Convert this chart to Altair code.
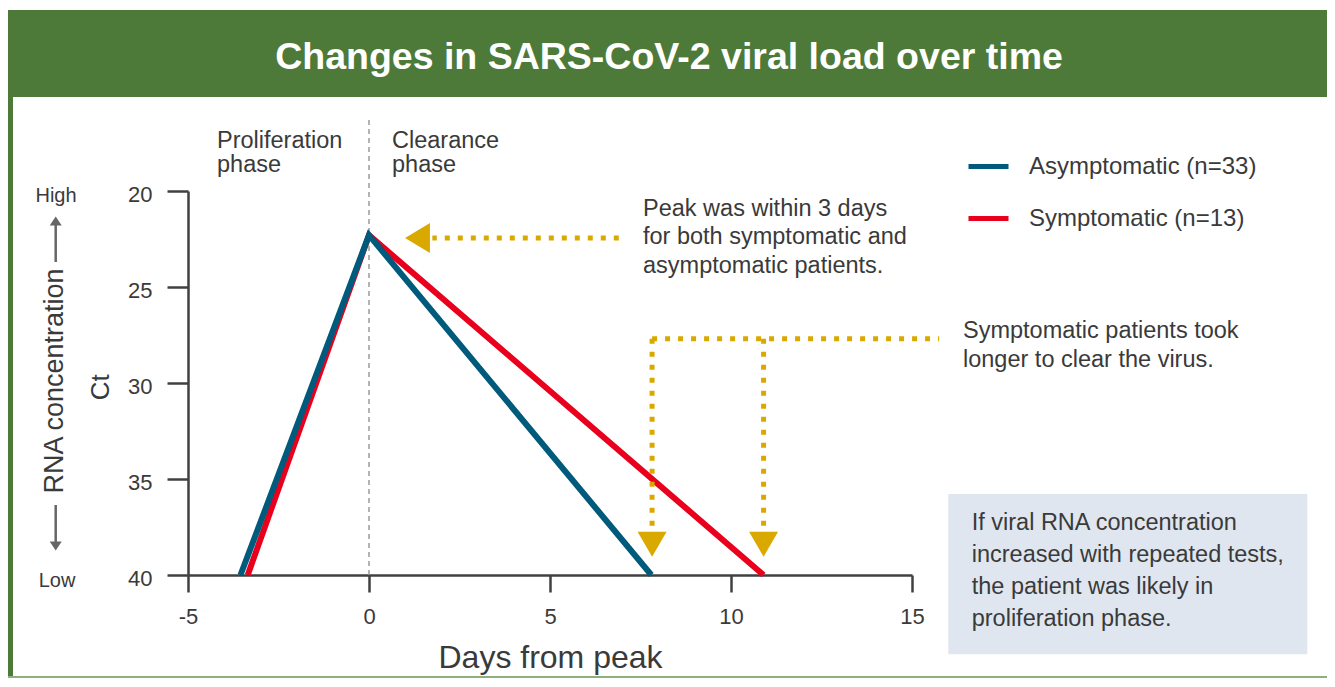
import altair as alt
import pandas as pd

FONT = "Liberation Sans"
TEXT = "#3A3A3A"
AXIS = "#404040"
GREEN = "#4E7A39"
GREEN_LIGHT = "#8FAE7F"
BLUE = "#005A7C"
RED = "#E8001C"
GOLD = "#DAA900"
BOX = "#DFE6EF"

# ---------------- data ----------------
title_text = "Changes in SARS-CoV-2 viral load over time"
series = ["Asymptomatic (n=33)", "Symptomatic (n=13)"]
series_colors = [BLUE, RED]
asym_days = [-3.55, 0.0, 7.8]
asym_ct = [40.0, 22.3, 40.0]
sym_days = [-3.35, 0.0, 10.9]
sym_ct = [40.0, 22.3, 40.0]
x_ticks = [-5, 0, 5, 10, 15]
y_ticks = [20, 25, 30, 35, 40]

# annotation geometry in data units
peak_line_days = [6.9, 1.75]
peak_line_ct = 22.45
peak_head_day = 1.34
clear_days = [7.82, 10.9]
clear_top_ct = 27.7
clear_line_end_day = 15.75
clear_bottom_ct = 37.6
clear_head_ct = 38.4
divider_day = 0.0
divider_top_ct = 16.3

proliferation_label = ["Proliferation", "phase"]
clearance_label = ["Clearance", "phase"]
peak_note = ["Peak was within 3 days", "for both symptomatic and", "asymptomatic patients."]
clear_note = ["Symptomatic patients took", "longer to clear the virus."]
box_note = ["If viral RNA concentration", "increased with repeated tests,",
            "the patient was likely in", "proliferation phase."]

W, H = 724, 384

# ---------------- tables ----------------
lines = pd.DataFrame({
    "day": asym_days + sym_days,
    "ct": asym_ct + sym_ct,
    "group": [series[0]] * 3 + [series[1]] * 3,
    "order": [0, 1, 2, 0, 1, 2],
})

x_enc = alt.X("day:Q",
              scale=alt.Scale(domain=[-5, 15], nice=False, zero=False),
              axis=alt.Axis(values=x_ticks, grid=False, title="Days from peak",
                            labelExpr="'' + datum.value",
                            domainColor=AXIS, domainWidth=2.5, tickColor=AXIS, tickWidth=2.5,
                            tickSize=17, labelFontSize=22, labelColor=TEXT, labelPadding=14,
                            labelFont=FONT, labelFlush=False,
                            titleFont=FONT, titleFontSize=32, titleFontWeight="normal",
                            titleColor=TEXT, titleY=92, titleBaseline="alphabetic"))
y_enc = alt.Y("ct:Q",
              scale=alt.Scale(domain=[20, 40], reverse=True, nice=False, zero=False),
              axis=alt.Axis(values=y_ticks, grid=False, title="Ct",
                            domainColor=AXIS, domainWidth=2.5, tickColor=AXIS, tickWidth=2.5,
                            tickSize=21, labelFontSize=22, labelColor=TEXT, labelPadding=15,
                            labelFont=FONT, labelOffset=3,
                            titleFont=FONT, titleFontSize=26, titleFontWeight="normal",
                            titleColor=TEXT, titleAngle=270, titleX=-79.7, titleY=195.7,
                            titleAlign="center", titleBaseline="alphabetic"))

color_enc = alt.Color("group:N",
                      scale=alt.Scale(domain=series, range=series_colors),
                      legend=alt.Legend(orient="none", legendX=778, legendY=-47, title=None,
                                        symbolType="stroke", symbolSize=1600,
                                        symbolStrokeWidth=5, labelFontSize=24,
                                        labelColor=TEXT, labelFont=FONT, labelOffset=18,
                                        labelLimit=0, rowPadding=17, padding=0))


def deco():
    return alt.Chart(alt.Data(values=[{"k": 1}]))


def note(lines_, x, y, size, lh, color=TEXT, align="left", **kw):
    return deco().mark_text(text=lines_, font=FONT, fontSize=size, lineHeight=lh,
                            color=color, align=align, baseline="alphabetic", **kw
                            ).encode(x=alt.value(x), y=alt.value(y))


# frame
band = deco().mark_rect(color=GREEN).encode(
    x=alt.value(-180), x2=alt.value(1139), y=alt.value(-181), y2=alt.value(-94))
strip = deco().mark_rect(color=GREEN).encode(
    x=alt.value(-180), x2=alt.value(-175), y=alt.value(-181), y2=alt.value(487))
bottom = deco().mark_rect(color=GREEN_LIGHT).encode(
    x=alt.value(-180), x2=alt.value(1139), y=alt.value(485), y2=alt.value(487))
title = deco().mark_text(text=title_text, font=FONT, fontSize=37.5, fontWeight="bold",
                         color="white", align="center", baseline="alphabetic"
                         ).encode(x=alt.value(481), y=alt.value(-121.7))

# left side labels
high = note("High", -132, 11, 20, 20, align="center")
low = note("Low", -131, 395.7, 20, 20, align="center")
rna = deco().mark_text(text="RNA concentration", font=FONT, fontSize=27, color=TEXT,
                       align="center", baseline="alphabetic", angle=270
                       ).encode(x=alt.value(-124.7), y=alt.value(190))
up_line = deco().mark_rule(color="#666666", strokeWidth=2.5).encode(
    x=alt.value(-132.3), y=alt.value(31), y2=alt.value(71))
dn_line = deco().mark_rule(color="#666666", strokeWidth=2.5).encode(
    x=alt.value(-132.3), y=alt.value(314), y2=alt.value(354))
up_head = deco().mark_point(shape="M0,-0.75L-1,0.75L1,0.75Z", filled=True, size=144,
                            color="#666666", opacity=1).encode(
    x=alt.value(-132.3), y=alt.value(30))
dn_head = deco().mark_point(shape="M0,0.75L-1,-0.75L1,-0.75Z", filled=True, size=144,
                            color="#666666", opacity=1).encode(
    x=alt.value(-132.3), y=alt.value(355))

# phase labels / divider
prolif = note(proliferation_label, 29, -42.7, 23.5, 23.5)
clear_lbl = note(clearance_label, 204, -42.7, 23.5, 23.5)
divider = alt.Chart(pd.DataFrame({"day": [divider_day], "ct": [divider_top_ct], "ct2": [40.0]})
                    ).mark_rule(color="#9A9A9A", strokeWidth=1.5, strokeDash=[5, 4]).encode(
    x=x_enc, y=y_enc, y2="ct2:Q")

# data lines (red first so blue sits on top)
red_line = alt.Chart(lines).transform_filter(alt.datum.group == series[1]).mark_line(
    strokeWidth=6, strokeCap="butt", strokeJoin="miter").encode(
    x=x_enc, y=y_enc, color=color_enc, order=alt.Order("order:Q"))
blue_line = alt.Chart(lines).transform_filter(alt.datum.group == series[0]).mark_line(
    strokeWidth=6, strokeCap="butt", strokeJoin="miter").encode(
    x=x_enc, y=y_enc, color=color_enc, order=alt.Order("order:Q"))

# annotations
dot_style = dict(color=GOLD, strokeWidth=5, strokeDash=[5, 8], strokeCap="butt")
peak_rule = alt.Chart(pd.DataFrame({"day": [peak_line_days[0]], "day2": [peak_line_days[1]],
                                    "ct": [peak_line_ct], "ct2": [peak_line_ct]})
                      ).mark_rule(**dot_style).encode(x=x_enc, x2="day2:Q", y=y_enc, y2="ct2:Q")
peak_head = alt.Chart(pd.DataFrame({"day": [peak_head_day], "ct": [peak_line_ct]})
                      ).mark_point(shape="M-0.83,0L0.83,-1L0.83,1Z", filled=True, size=900,
                                   color=GOLD, opacity=1).encode(x=x_enc, y=y_enc)
clear_rules = alt.Chart(pd.DataFrame({
    "day": [clear_days[0], clear_days[0], clear_days[1]],
    "day2": [clear_line_end_day, clear_days[0], clear_days[1]],
    "ct": [clear_top_ct, clear_top_ct, clear_top_ct],
    "ct2": [clear_top_ct, clear_bottom_ct, clear_bottom_ct],
})).mark_rule(**dot_style).encode(x=x_enc, x2="day2:Q", y=y_enc, y2="ct2:Q")
clear_heads = alt.Chart(pd.DataFrame({"day": clear_days, "ct": [clear_head_ct] * 2})
                        ).mark_point(shape="M-1,-0.86L1,-0.86L0,0.86Z", filled=True, size=841,
                                     color=GOLD, opacity=1).encode(x=x_enc, y=y_enc)

peak_txt = note(peak_note, 455, 24.7, 23.5, 28.8)
clear_txt = note(clear_note, 775, 147.3, 23.5, 28.4)
box = deco().mark_rect(color=BOX).encode(
    x=alt.value(760.3), x2=alt.value(1119.3), y=alt.value(303), y2=alt.value(463.3))
box_txt = note(box_note, 783.7, 339, 23.5, 32)

chart = alt.layer(
    band, strip, bottom, title,
    high, low, rna, up_line, dn_line, up_head, dn_head,
    prolif, clear_lbl, divider,
    red_line, blue_line,
    peak_rule, peak_head, clear_rules, clear_heads,
    peak_txt, clear_txt, box, box_txt,
).properties(
    width=W, height=H,
    autosize=alt.AutoSizeParams(type="none"),
    padding={"left": 180, "top": 183, "right": 415, "bottom": 103},
    background="white",
).configure(font=FONT).configure_view(stroke="transparent", strokeWidth=0)

chart.save("out.html", embed_options={"renderer": "svg", "actions": False})
